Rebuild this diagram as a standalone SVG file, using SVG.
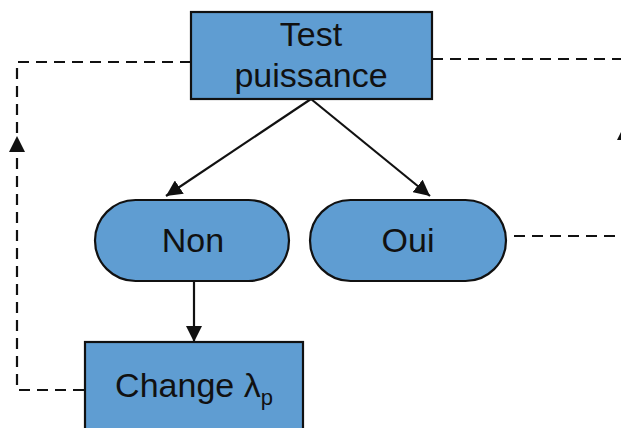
<svg xmlns="http://www.w3.org/2000/svg" width="621" height="428" viewBox="0 0 621 428">
<style>
.node{fill:#5f9dd2;stroke:#111;stroke-width:2.2}
.t{font-family:"Liberation Sans",Arial,sans-serif;font-size:34px;fill:#111;text-anchor:middle}
.dash{fill:none;stroke:#111;stroke-width:2.2;stroke-dasharray:11 7}
.solid{fill:none;stroke:#111;stroke-width:2.2}
</style>
<defs>
<marker id="ah" markerWidth="16" markerHeight="16" viewBox="0 0 16 16" refX="16" refY="8" orient="auto" markerUnits="userSpaceOnUse">
<path d="M0,0 L16,8 L0,16 Z" fill="#111"/>
</marker>
</defs>
<g id="connectors">
<path class="dash" d="M191,62 H17 V390 H85"/>
<path d="M17,136 L9,152 L25,152 Z" fill="#111"/>
<path class="dash" d="M432,59 H621"/>
<path class="dash" d="M514,236 H621"/>
<path d="M625,124 L617,140 L633,140 Z" fill="#111"/>
<line class="solid" x1="311" y1="99" x2="166" y2="196" marker-end="url(#ah)"/>
<line class="solid" x1="311" y1="99" x2="430" y2="196" marker-end="url(#ah)"/>
<line class="solid" x1="194" y1="281" x2="194" y2="342" marker-end="url(#ah)"/>
</g>
<g id="test">
<rect class="node" x="191" y="12" width="241" height="87"/>
<text class="t" x="311" y="46">Test</text>
<text class="t" x="311" y="87">puissance</text>
</g>
<g id="non">
<rect class="node" x="95" y="200" width="194" height="81" rx="40.5"/>
<text class="t" x="193" y="252">Non</text>
</g>
<g id="oui">
<rect class="node" x="310" y="200" width="196" height="81" rx="40.5"/>
<text class="t" x="408" y="252">Oui</text>
</g>
<g id="change">
<rect class="node" x="85" y="342" width="218" height="100"/>
<text class="t" x="194" y="397">Change λ<tspan font-size="22" dy="8">p</tspan></text>
</g>
</svg>
